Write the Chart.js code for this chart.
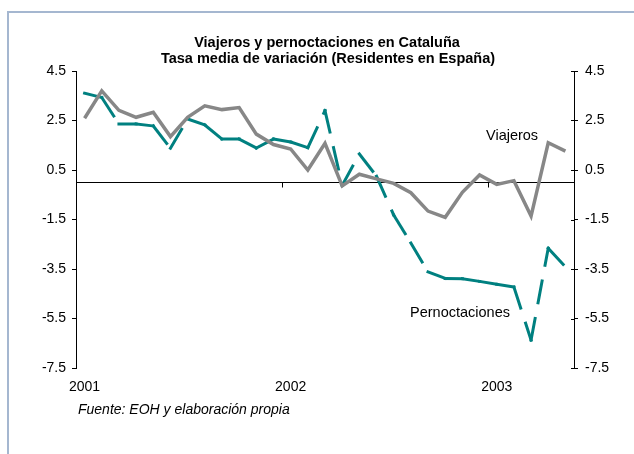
<!DOCTYPE html>
<html>
<head>
<meta charset="utf-8">
<script src="https://cdn.jsdelivr.net/npm/chart.js@4.4.1/dist/chart.umd.min.js"></script>
<style>
  html, body { margin: 0; padding: 0; background: #fff; overflow: hidden; }
  #wrap { position: relative; width: 634px; height: 454px; }
  #frame { position: absolute; left: 7px; top: 11px; width: 700px; height: 500px;
           border-left: 2px solid #a5b7d0; border-top: 2px solid #a5b7d0; }
  #c { position: absolute; left: 0; top: 0; }
</style>
</head>
<body>
<div id="wrap">
  <div id="frame"></div>
  <canvas id="c" width="634" height="454"></canvas>
</div>
<script>
// monthly categories, Jan 2001 .. May 2003
const months = [
  '2001-01','2001-02','2001-03','2001-04','2001-05','2001-06','2001-07','2001-08','2001-09','2001-10','2001-11','2001-12',
  '2002-01','2002-02','2002-03','2002-04','2002-05','2002-06','2002-07','2002-08','2002-09','2002-10','2002-11','2002-12',
  '2003-01','2003-02','2003-03','2003-04','2003-05'
];
const viajeros = [
  2.59, 3.70, 2.91, 2.63, 2.83, 1.85, 2.63, 3.09, 2.94, 3.02, 1.95, 1.53,
  1.35, 0.50, 1.58, -0.14, 0.33, 0.14, -0.04, -0.42, -1.16, -1.41, -0.40, 0.30,
  -0.08, 0.07, -1.36, 1.60, 1.26
];
const pernoctaciones = [
  3.60, 3.43, 2.36, 2.36, 2.28, 1.38, 2.56, 2.32, 1.75, 1.75, 1.39, 1.75,
  1.63, 1.40, 2.90, -0.12, 1.15, 0.25, -1.32, -2.45, -3.62, -3.88, -3.89, -4.00,
  -4.12, -4.23, -6.37, -2.66, -3.41
];
const yTicks = [-7.5, -5.5, -3.5, -1.5, 0.5, 2.5, 4.5];

const FONT = '"Liberation Sans", Arial, sans-serif';

// zero line + year ticks, inner half of right ticks, then the texts
const extras = {
  id: 'extras',
  beforeDatasetsDraw(chart) {
    const { ctx, chartArea, scales } = chart;
    const y0 = Math.round(scales.y.getPixelForValue(0)) + 0.5;
    ctx.save();
    ctx.strokeStyle = '#000';
    ctx.lineWidth = 1;
    ctx.beginPath();
    ctx.moveTo(chartArea.left, y0);
    ctx.lineTo(chartArea.right, y0);
    [12, 24].forEach(i => {
      const x = Math.round((scales.x.getPixelForValue(i - 1) + scales.x.getPixelForValue(i)) / 2) + 0.5;
      ctx.moveTo(x, y0);
      ctx.lineTo(x, y0 + 5);
    });
    yTicks.forEach(v => {
      const y = Math.round(scales.y2.getPixelForValue(v)) + 0.5;
      ctx.moveTo(chartArea.right - 3, y);
      ctx.lineTo(chartArea.right, y);
    });
    ctx.stroke();
    ctx.restore();
  },
  afterDraw(chart) {
    const ctx = chart.ctx;
    ctx.save();
    ctx.fillStyle = '#000';
    ctx.textBaseline = 'alphabetic';
    ctx.textAlign = 'center';
    ctx.font = 'bold 14.5px ' + FONT;
    ctx.fillText('Viajeros y pernoctaciones en Cataluña', 327, 47);
    ctx.fillText('Tasa media de variación (Residentes en España)', 328, 63);
    ctx.textAlign = 'left';
    ctx.font = '14.5px ' + FONT;
    ctx.fillText('Viajeros', 486, 140);
    ctx.fillText('Pernoctaciones', 410, 317);
    ctx.font = 'italic 14px ' + FONT;
    ctx.fillText('Fuente: EOH y elaboración propia', 78, 414);
    ctx.restore();
  }
};

const yAxis = (pos, width) => ({
  position: pos,
  min: -7.5,
  max: 4.5,
  afterBuildTicks: s => { s.ticks = yTicks.map(v => ({ value: v })); },
  afterFit: s => { s.width = width; },
  border: { display: true, color: '#000', width: 1 },
  grid: { drawOnChartArea: false, drawTicks: true, tickLength: 4, color: '#000' },
  ticks: {
    color: '#000',
    font: { family: FONT, size: 14 },
    padding: pos === 'left' ? 6 : 7,
    callback: v => v.toFixed(1)
  }
});

new Chart(document.getElementById('c'), {
  type: 'line',
  data: {
    labels: months,
    datasets: [
      {
        label: 'Viajeros',
        data: viajeros,
        borderColor: '#878787',
        borderWidth: 3.5,
        pointRadius: 0,
        tension: 0,
        borderJoinStyle: 'miter',
        order: 1
      },
      {
        label: 'Pernoctaciones',
        data: pernoctaciones,
        borderColor: '#008080',
        borderWidth: 3,
        pointRadius: 0,
        tension: 0,
        borderCapStyle: 'square',
        borderDash: [22, 16],
        // restart the dash pattern at every point, like the original
        segment: { borderDashOffset: c => (c.p0DataIndex % 2 ? 0 : 0.01) },
        order: 2
      }
    ]
  },
  options: {
    responsive: false,
    animation: false,
    layout: { padding: { top: 71, left: 0, right: 0, bottom: 0 } },
    plugins: { legend: { display: false }, title: { display: false }, tooltip: { enabled: false } },
    scales: {
      x: {
        type: 'category',
        offset: true,
        afterFit: s => { s.height = 86; },
        grid: { display: false, drawTicks: false },
        border: { display: false },
        ticks: {
          autoSkip: false,
          maxRotation: 0,
          color: '#000',
          font: { family: FONT, size: 14 },
          padding: 11,
          callback: function (v, i) { return i % 12 === 0 ? months[i].slice(0, 4) : ''; }
        }
      },
      y: yAxis('left', 76),
      y2: yAxis('right', 60)
    }
  },
  plugins: [extras]
});
</script>
</body>
</html>
